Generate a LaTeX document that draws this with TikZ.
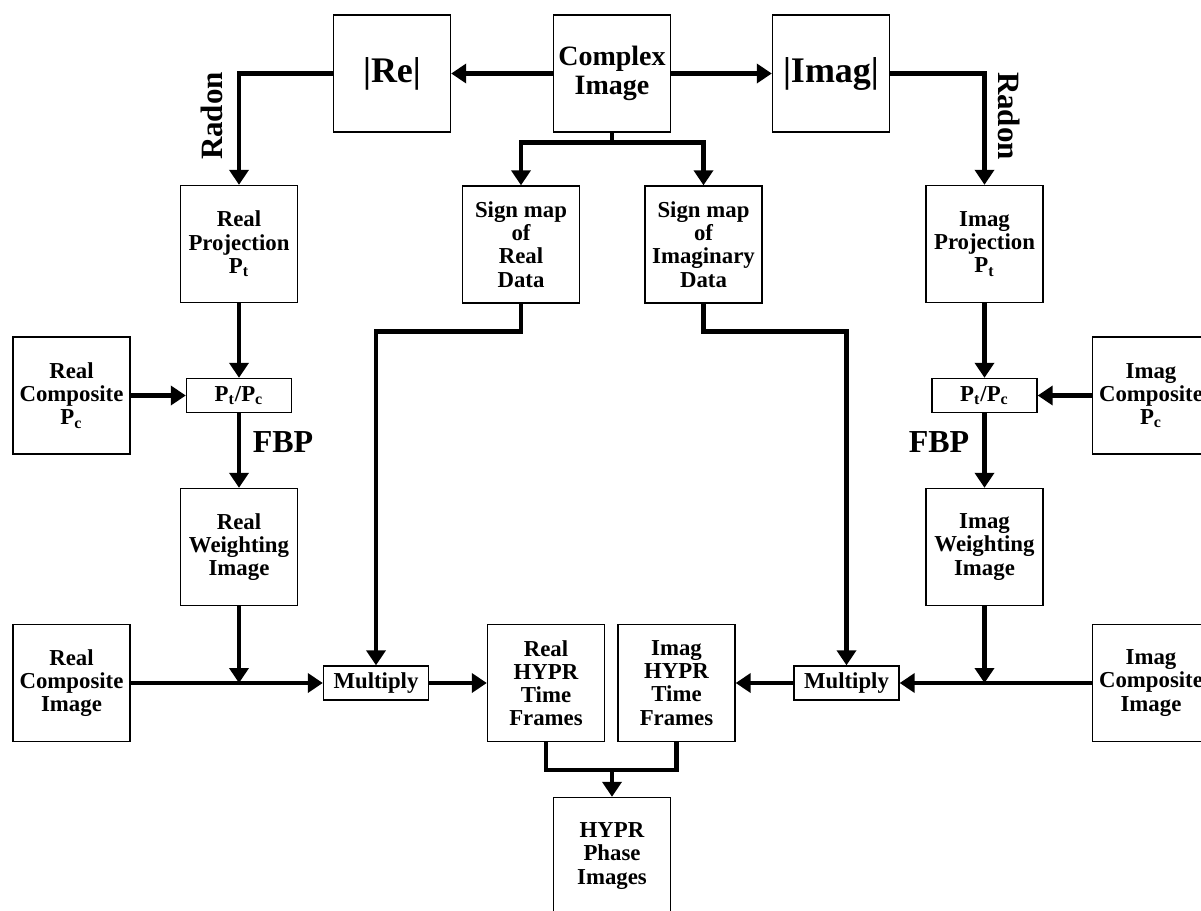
\documentclass[tikz,border=0pt]{standalone}
\usepackage{fontspec}
\setmainfont{Liberation Serif}
\usetikzlibrary{arrows.meta,positioning}

\begin{document}
\begin{tikzpicture}[
  x=0.5pt, y=-0.5pt,
  box/.style={draw, line width=0.7pt, minimum width=58.5pt, minimum height=58.5pt, inner sep=1pt, align=center, font=\bfseries\fontsize{11.4}{11.6}\selectfont},
  op/.style={box, minimum width=52.5pt, minimum height=17pt},
  big/.style={box, font=\bfseries\fontsize{18}{18}\selectfont},
  cplxbox/.style={box, font=\bfseries\fontsize{14}{14.5}\selectfont},
  lbl/.style={inner sep=0pt, font=\bfseries\fontsize{16}{16}\selectfont},
  wire/.style={line width=2.3pt},
  arr/.style={wire, -{Triangle[length=7.5pt,width=9.5pt]}}
]
\useasboundingbox (0,0) rectangle (1201,911);

% top row
\node[cplxbox] (cplx) at (612,73.5) {Complex\\Image};
\node[big] (re) at (392,73.5) {|Re|};
\node[big] (im) at (831,73.5) {|Imag|};

% projections and sign maps
\node[box] (rproj) at (239,244) {Real\\Projection\\P\textsubscript{t}};
\node[box] (sreal) at (521,244.5) {Sign map\\of\\Real\\Data};
\node[box] (simag) at (703.5,244.5) {Sign map\\of\\Imaginary\\Data};
\node[box] (iproj) at (984.5,244) {Imag\\Projection\\P\textsubscript{t}};

% normalisation
\node[box] (rcompP) at (71.5,395.5) {Real\\Composite\\P\textsubscript{c}};
\node[op] (rdiv) at (239,395.5) {P\textsubscript{t}/P\textsubscript{c}};
\node[op] (idiv) at (984.5,395.5) {P\textsubscript{t}/P\textsubscript{c}};
\node[box] (icompP) at (1151,395.5) {Imag\\Composite\\P\textsubscript{c}};

% weighting images
\node[box] (rweight) at (239,547) {Real\\Weighting\\Image};
\node[box] (iweight) at (984.5,547) {Imag\\Weighting\\Image};

% bottom row
\node[box] (rcompI) at (71.5,683) {Real\\Composite\\Image};
\node[op] (rmult) at (376,683) {Multiply};
\node[box] (rhypr) at (546,683) {Real\\HYPR\\Time\\Frames};
\node[box] (ihypr) at (676.5,683) {Imag\\HYPR\\Time\\Frames};
\node[op] (imult) at (846.5,683) {Multiply};
\node[box] (icompI) at (1151,683) {Imag\\Composite\\Image};
\node[box] (phase) at (612,856) {HYPR\\Phase\\Images};

\coordinate (rj) at (rweight |- rcompI);
\coordinate (ij) at (iweight |- icompI);
\coordinate (hj) at (612,770);

% magnitude split
\draw[arr] (cplx) -- (re);
\draw[arr] (cplx) -- (im);
\draw[arr] (cplx.south) -- ++(0,10) -| (sreal.north);
\draw[arr] (cplx.south) -- ++(0,10) -| (simag.north);

% Radon
\draw[arr] (re.west) -| (rproj.north);
\node[lbl, font=\bfseries\fontsize{15.5}{15.5}\selectfont, rotate=90] (radre) at (212,116) {Radon};
\draw[arr] (im.east) -| (iproj.north);
\node[lbl, font=\bfseries\fontsize{15.5}{15.5}\selectfont, rotate=-90] (radim) at (1009,116) {Radon};

% real branch
\draw[arr] (rproj) -- (rdiv);
\draw[arr] (rcompP) -- (rdiv);
\draw[arr] (rdiv) -- (rweight);
\node[lbl] (fbpre) at (283,442) {FBP};
\draw[arr] (rweight) -- (rj);
\draw[arr] (rcompI) -- (rmult);
\draw[arr] (sreal.south) -- ++(0,28) -| (rmult.north);
\draw[arr] (rmult) -- (rhypr);

% imaginary branch
\draw[arr] (iproj) -- (idiv);
\draw[arr] (icompP) -- (idiv);
\draw[arr] (idiv) -- (iweight);
\node[lbl] (fbpim) at (939,442) {FBP};
\draw[arr] (iweight) -- (ij);
\draw[arr] (icompI) -- (imult);
\draw[arr] (simag.south) -- ++(0,28) -| (imult.north);
\draw[arr] (imult) -- (ihypr);

% phase images
\draw[wire] (rhypr.south) |- (hj) -| (ihypr.south);
\draw[arr] (hj) -- (phase);
\end{tikzpicture}
\end{document}
